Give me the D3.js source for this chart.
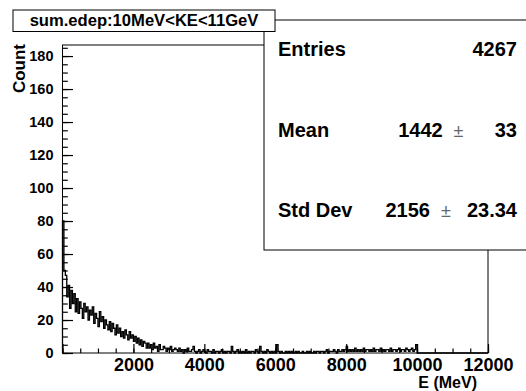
<!DOCTYPE html>
<html>
<head>
<meta charset="utf-8">
<script src="https://cdn.jsdelivr.net/npm/d3@7"></script>
<style>
    body { margin: 0; background: #fff; }
    text { font-family: "Liberation Sans", Arial, sans-serif; font-weight: bold; }
</style>
</head>
<body>
<div id="chart"></div>
<script>
// Histogram data (counts per 40 MeV bin, 0 - 10000 MeV)
const binWidth = 40;
const counts = [
    80, 50, 47, 34, 41, 27, 38, 30, 36, 25,
    33, 24, 31, 27, 21, 30, 25, 28, 20, 26,
    23, 28, 18, 24, 21, 16, 25, 19, 22, 15,
    20, 17, 14, 19, 13, 18, 15, 11, 17, 12,
    15, 10, 13, 9, 14, 11, 8, 13, 9, 11,
    7, 10, 6, 9, 5, 8, 4, 7, 6, 3,
    6, 3, 5, 2, 6, 3, 4, 1, 5, 2,
    2, 4, 3, 1, 3, 2, 4, 1, 2, 3,
    2, 1, 3, 1, 2, 0, 2, 1, 3, 1,
    1, 2, 4, 1, 0, 1, 2, 0, 1, 2,
    1, 0, 2, 1, 1, 0, 2, 0, 1, 1,
    0, 1, 2, 0, 1, 0, 1, 1, 0, 4,
    1, 0, 1, 2, 0, 1, 0, 1, 0, 2,
    0, 1, 0, 1, 1, 0, 2, 1, 0, 4,
    1, 0, 1, 0, 2, 1, 0, 1, 0, 1,
    0, 5, 1, 0, 1, 0, 0, 1, 0, 1,
    0, 1, 0, 0, 1, 0, 1, 0, 0, 1,
    0, 0, 1, 0, 1, 0, 0, 1, 0, 1,
    1, 0, 1, 1, 0, 1, 2, 0, 1, 1,
    1, 2, 1, 0, 2, 1, 1, 2, 1, 2,
    4, 1, 2, 1, 2, 1, 3, 1, 2, 1,
    2, 1, 3, 1, 2, 2, 1, 2, 1, 3,
    1, 2, 2, 1, 3, 1, 2, 1, 2, 2,
    1, 3, 1, 2, 2, 1, 2, 3, 1, 2,
    2, 1, 3, 2, 1, 2, 3, 1, 2, 5
];

// Axis ranges and tick labels
const xRange = [0, 12000];
const yRange = [0, 186.7];
const xLabels = [2000, 4000, 6000, 8000, 10000, 12000];
const yLabels = [0, 20, 40, 60, 80, 100, 120, 140, 160, 180];

// Title and stats box texts
const histTitle = "sum.edep:10MeV<KE<11GeV";
const statNames = ["Entries", "Mean", "Std Dev"];
const statValues = ["4267", "1442", "2156"];
const statErrors = [null, "33", "23.34"];

const width = 526, height = 391;
const frame = {left: 62.5, right: 488, top: 45, bottom: 353};

const svg = d3.select("#chart")
    .append("svg")
    .attr("width", width)
    .attr("height", height);

const x = d3.scaleLinear().domain(xRange).range([frame.left, frame.right]);
const y = d3.scaleLinear().domain(yRange).range([frame.bottom, frame.top]);

// frame
svg.append("rect")
    .attr("x", frame.left)
    .attr("y", frame.top)
    .attr("width", frame.right - frame.left)
    .attr("height", frame.bottom - frame.top)
    .attr("fill", "none")
    .attr("stroke", "#000")
    .attr("stroke-width", 1);

// histogram outline (step line)
let pts = [[0, 0]];
counts.forEach((c, i) => pts.push([i * binWidth, c]));
pts.push([counts.length * binWidth, 0]);
pts.push([xRange[1], 0]);

const line = d3.line()
    .x(d => x(d[0]))
    .y(d => y(d[1]))
    .curve(d3.curveStepAfter);

svg.append("path")
    .datum(pts)
    .attr("d", line)
    .attr("fill", "none")
    .attr("stroke", "#000")
    .attr("stroke-width", 1.3);

// y axis: major ticks every 20, minor every 5, ticks inside the frame
const yMajor = d3.axisLeft(y)
    .tickValues(yLabels)
    .tickSize(-10.5)
    .tickPadding(9)
    .tickFormat(d3.format("d"));
const yMinor = d3.axisLeft(y)
    .tickValues(d3.range(0, 186, 5))
    .tickSize(-5.3)
    .tickFormat("");

svg.append("g").attr("transform", `translate(${frame.left},0)`).call(yMinor);
const gy = svg.append("g").attr("transform", `translate(${frame.left},0)`).call(yMajor);
gy.selectAll("text")
    .attr("font-size", "14.5px")
    .attr("font-family", "Liberation Sans")
    .attr("font-weight", "bold")
    .attr("fill", "#000");

// x axis: major every 2000, minor every 500
const xMajor = d3.axisBottom(x)
    .tickValues(d3.range(0, 12001, 2000))
    .tickSize(-9)
    .tickPadding(5)
    .tickFormat(d => xLabels.includes(d) ? d : "");
const xMinor = d3.axisBottom(x)
    .tickValues(d3.range(0, 12001, 500))
    .tickSize(-4.5)
    .tickFormat("");

svg.append("g").attr("transform", `translate(0,${frame.bottom})`).call(xMinor);
const gx = svg.append("g").attr("transform", `translate(0,${frame.bottom})`).call(xMajor);
gx.selectAll("text")
    .attr("font-size", "18px")
    .attr("font-family", "Liberation Sans")
    .attr("font-weight", "bold")
    .attr("fill", "#000");

svg.selectAll(".domain").remove();
svg.selectAll(".tick line").attr("stroke", "#000").attr("stroke-width", 1.2);

// axis titles
svg.append("text")
    .attr("transform", `translate(25,44)rotate(-90)`)
    .attr("text-anchor", "end")
    .attr("font-size", "17px")
    .attr("fill", "#000")
    .text("Count");

svg.append("text")
    .attr("x", 477)
    .attr("y", 388)
    .attr("text-anchor", "end")
    .attr("font-size", "16px")
    .attr("fill", "#000")
    .text("E (MeV)");

// stats box
const stats = svg.append("g").attr("class", "stats");
stats.append("rect")
    .attr("x", 264)
    .attr("y", 20)
    .attr("width", 300)
    .attr("height", 230)
    .attr("fill", "#fff")
    .attr("stroke", "#000")
    .attr("stroke-width", 1);

const rowY = [56, 136.5, 216.5];
stats.selectAll("text.name")
    .data(statNames)
    .join("text")
    .attr("class", "name")
    .attr("x", 278)
    .attr("y", (d, i) => rowY[i])
    .attr("font-size", "20px")
    .attr("fill", "#000")
    .text(d => d);

// value positions: right edge of value, centre of the +- sign
const valueRight = [517, 442.7, 430];
const pmCenter = [null, 458.5, 446];
stats.selectAll("text.val")
    .data(statValues)
    .join("text")
    .attr("class", "val")
    .attr("x", (d, i) => valueRight[i])
    .attr("y", (d, i) => rowY[i])
    .attr("text-anchor", "end")
    .attr("font-size", "20px")
    .attr("fill", "#000")
    .text(d => d);

statErrors.forEach((e, i) => {
    if (e === null) return;
    stats.append("text")
        .attr("x", pmCenter[i])
        .attr("y", rowY[i])
        .attr("text-anchor", "middle")
        .attr("font-size", "18px")
        .style("font-weight", "normal")
        .attr("fill", "#666")
        .text("\u00b1");
    stats.append("text")
        .attr("x", 517)
        .attr("y", rowY[i])
        .attr("text-anchor", "end")
        .attr("font-size", "20px")
        .attr("fill", "#000")
        .text(e);
});

// title box, drawn over the stats box
svg.append("rect")
    .attr("x", 13)
    .attr("y", 10)
    .attr("width", 262)
    .attr("height", 21.5)
    .attr("fill", "#fff")
    .attr("stroke", "#000")
    .attr("stroke-width", 1);

svg.append("text")
    .attr("x", 144)
    .attr("y", 25.5)
    .attr("text-anchor", "middle")
    .attr("font-size", "16.6px")
    .attr("fill", "#000")
    .text(histTitle);
</script>
</body>
</html>
